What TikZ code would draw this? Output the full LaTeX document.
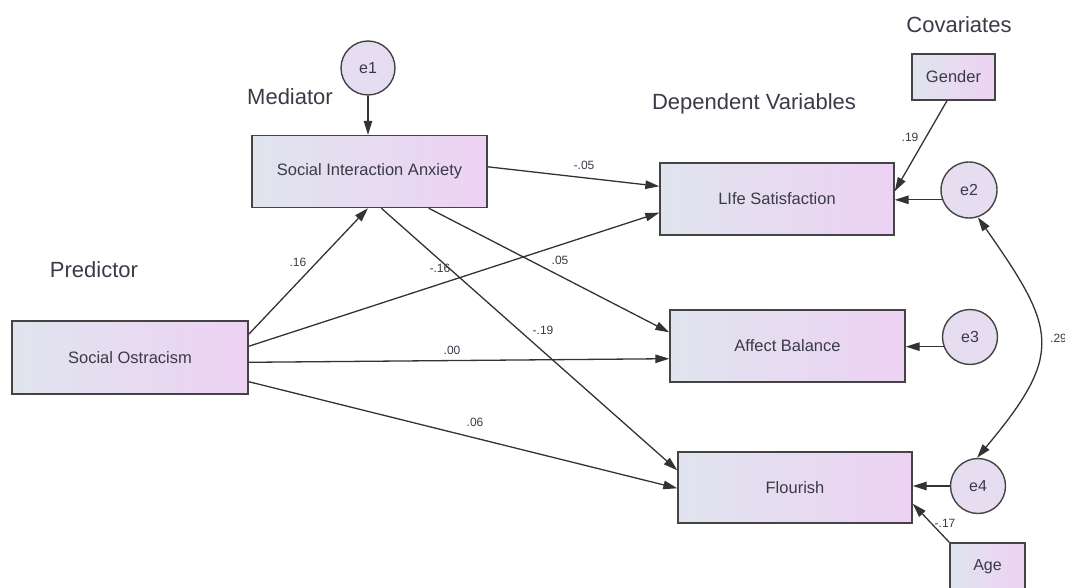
\documentclass[tikz,border=0pt]{standalone}
\usepackage{fontspec}
\setmainfont{Liberation Sans}
\usetikzlibrary{arrows.meta,calc}
\definecolor{boxl}{HTML}{E0E4EE}
\definecolor{boxr}{HTML}{EDD2F3}
\definecolor{circfill}{HTML}{E6DDF1}
\definecolor{lineclr}{HTML}{333333}
\definecolor{boxline}{HTML}{444444}
\definecolor{txt}{HTML}{3A3A48}
\begin{document}
\begin{tikzpicture}[x=1pt,y=-1pt,
  box/.style={draw=boxline, line width=1.4pt, left color=boxl, right color=boxr,
    inner sep=0pt, text=txt, font=\fontsize{16.5}{18}\selectfont},
  errc/.style={circle, draw=boxline, line width=1.4pt, fill=circfill, inner sep=0pt,
    minimum size=#1, text=txt, font=\fontsize{16}{18}\selectfont},
  arr/.style={-{Triangle[length=14pt,width=8.5pt]}, line width=1.3pt, draw=lineclr},
  darr/.style={{Triangle[length=14pt,width=8.5pt]}-{Triangle[length=14pt,width=8.5pt]}, line width=1.3pt, draw=lineclr},
  coef/.style={font=\fontsize{12}{14}\selectfont, text=txt, inner sep=0pt},
  head/.style={font=\fontsize{22}{25}\selectfont, text=txt, inner sep=0pt}]
\useasboundingbox (0,0) rectangle (1065,588);

% boxes
\node[box, minimum width=236pt, minimum height=73pt] (SO) at (130,357.5) {Social Ostracism};
\node[box, minimum width=235pt, minimum height=72pt] (SIA) at (369.5,171.5) {Social Interaction Anxiety};
\node[box, minimum width=234pt, minimum height=72pt] (LS) at (777,199) {LIfe Satisfaction};
\node[box, minimum width=235pt, minimum height=72pt] (AB) at (787.5,346) {Affect Balance};
\node[box, minimum width=234pt, minimum height=71pt] (FL) at (795,487.5) {Flourish};
\node[box, minimum width=83pt, minimum height=46pt] (GE) at (953.5,77) {Gender};
\node[box, minimum width=75pt, minimum height=48pt, font=\fontsize{16}{18}\selectfont] (AG) at (987.5,567) {Age};

% error terms
\node[errc=54pt] (e1) at (368,68) {e1};
\node[errc=56pt] (e2) at (969,190) {e2};
\node[errc=55pt] (e3) at (970,337) {e3};
\node[errc=55pt] (e4) at (978,486) {e4};

% headers
\node[head] (hMed) at (290,97) {Mediator};
\node[head] (hPred) at (94,270) {Predictor};
\node[head] (hDep) at (754,104) {Dependent Variables};
\node[head] (hCov) at (959,25) {Covariates};

% paths
\draw[arr] (e1.south) -- (e1.south |- SIA.north);
\draw[arr] ([yshift=-14pt]SO.north east) -- ([xshift=-1.5pt]SIA.south);
\draw[arr] ([yshift=-26pt]SO.north east) -- ([yshift=23pt]LS.south west);
\draw[arr] ([yshift=-42pt]SO.north east) -- ([yshift=24pt]AB.south west);
\draw[arr] ([yshift=13pt]SO.south east) -- ([yshift=-37pt]FL.north west);
\draw[arr] ([yshift=-32pt]SIA.north east) -- ([yshift=-24pt]LS.north west);
\draw[arr] ([xshift=-59pt]SIA.south east) -- ([yshift=-23pt]AB.north west);
\draw[arr] ([xshift=130pt]SIA.south west) -- ([yshift=-19pt]FL.north west);
\draw[arr] ([xshift=-6.5pt]GE.south) -- ([yshift=-29pt]LS.north east);
\draw[arr] (e2.200) -- (e2.200 -| LS.east);
\draw[arr] (e3.200) -- (e3.200 -| AB.east);
\draw[arr] (e4.west) -- (e4.west -| FL.east);
\draw[arr] (AG.north west) -- ([yshift=20pt]FL.south east);
\draw[darr] (e2.-72) to[out=-55,in=50,looseness=1.45] (e4.92);

% coefficients
\node[coef] (c1) at (298,262) {.16};
\node[coef] (c2) at (584,165) {-.05};
\node[coef] (c3) at (440,268) {-.16};
\node[coef] (c4) at (560,260) {.05};
\node[coef] (c5) at (543,330) {-.19};
\node[coef] (c6) at (452,350) {.00};
\node[coef] (c7) at (475,422) {.06};
\node[coef] (c8) at (910,137) {.19};
\node[coef] (c9) at (945,523) {-.17};
\node[coef, anchor=west] (c10) at (1050,338) {.29};
\end{tikzpicture}
\end{document}
